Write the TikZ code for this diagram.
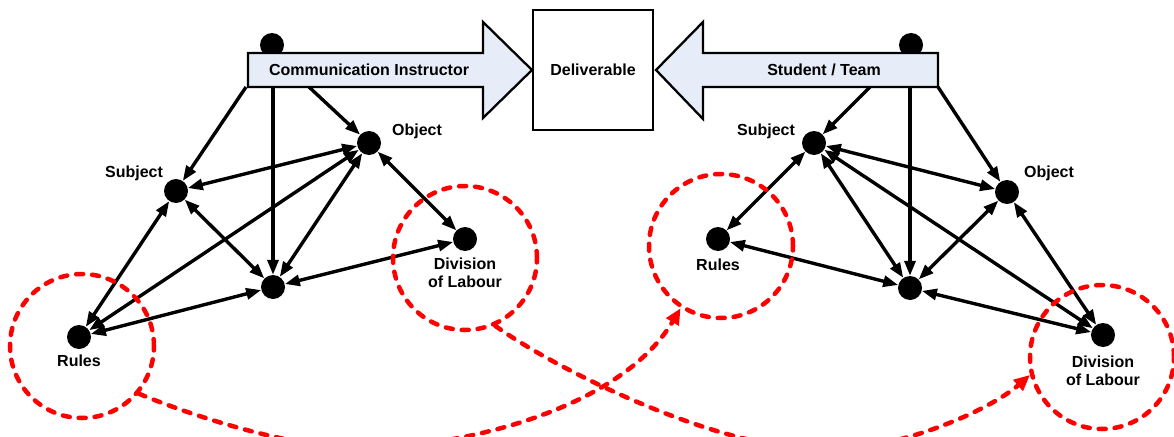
\documentclass[tikz,border=0pt]{standalone}
\usepackage{fontspec}
\setmainfont{Liberation Sans}
\usetikzlibrary{arrows.meta}
\definecolor{arrfill}{RGB}{230,237,248}
\definecolor{dashred}{RGB}{255,0,0}
\begin{document}
\begin{tikzpicture}[x=1pt,y=-1pt,
  font=\fontsize{16}{18}\selectfont\bfseries,
  dot/.style={circle,fill=black,minimum size=24pt,inner sep=0pt},
  lbl/.style={align=center,inner sep=0pt},
  link/.style={line width=3.4pt,-{Triangle[length=15pt,width=11pt]}},
  dlink/.style={line width=3.4pt,{Triangle[length=15pt,width=11pt]}-{Triangle[length=15pt,width=11pt]}},
  ring/.style={draw=dashred,line width=4.5pt,dash pattern=on 7pt off 9pt,line cap=round},
  ringnode/.style={ring,circle,minimum size=144pt,inner sep=0pt},
  flow/.style={ring,-{Triangle[length=16pt,width=14pt]}},
  bigarrow/.style={draw=black,line width=2.3pt,fill=arrfill,line join=miter}]
\useasboundingbox (0,0) rectangle (1174,436);
\clip (0,0) rectangle (1174,436);

% top dots (behind the big arrows)
\node[dot] (ltop) at (272,45) {};
\node[dot] (rtop) at (911,45) {};

% big arrows
\draw[bigarrow] (248,53) -- (483,53) -- (483,22) -- (532,70) -- (483,118) -- (483,87) -- (248,87) -- cycle;
\node (ci) at (369,70) {Communication Instructor};
\draw[bigarrow] (938,53) -- (703,53) -- (703,22) -- (656,70) -- (703,119) -- (703,87) -- (938,87) -- cycle;
\node (st) at (824,70) {Student / Team};

% deliverable
\node[draw,line width=2pt,minimum width=120pt,minimum height=120pt,inner sep=0pt] (deliv) at (593,70) {Deliverable};

% coordinates on arrow bodies
\coordinate (ca1) at (246,87);
\coordinate (ca2) at (273,87);
\coordinate (ca3) at (309,87);
\coordinate (sa1) at (870,87);
\coordinate (sa2) at (910,87);
\coordinate (sa3) at (938,87);

% left nodes
\node[dot] (lS) at (176,191) {};
\node[dot] (lO) at (369,143) {};
\node[dot] (lC) at (273,287) {};
\node[dot] (lD) at (465,239) {};
\node[dot] (lR) at (79,337) {};
\node[lbl] (lSl) at (134,173) {Subject};
\node[lbl] (lOl) at (417,131) {Object};
\node[lbl] (lDl) at (465,273) {Division\\of Labour};
\node[lbl] (lRl) at (79,361) {Rules};

% right nodes
\node[dot] (rS) at (814,143) {};
\node[dot] (rO) at (1007,192) {};
\node[dot] (rC) at (910,288) {};
\node[dot] (rD) at (1103,335) {};
\node[dot] (rR) at (718,239) {};
\node[lbl] (rSl) at (766,131) {Subject};
\node[lbl] (rOl) at (1049,173) {Object};
\node[lbl] (rDl) at (1103,371) {Division\\of Labour};
\node[lbl] (rRl) at (718,265) {Rules};

% left connectors
\draw[link] (ca1) -- (lS);
\draw[link] (ca2) -- (lC);
\draw[link] (ca3) -- (lO);
\draw[dlink] (lS) -- (lO);
\draw[dlink] (lS) -- (lC);
\draw[dlink] (lS) -- (lR);
\draw[dlink] (lO) -- (lC);
\draw[dlink] (lO) -- (lR);
\draw[dlink] (lO) -- (lD);
\draw[dlink] (lC) -- (lD);
\draw[dlink] (lC) -- (lR);

% right connectors
\draw[link] (sa1) -- (rS);
\draw[link] (sa2) -- (rC);
\draw[link] (sa3) -- (rO);
\draw[dlink] (rS) -- (rO);
\draw[dlink] (rS) -- (rR);
\draw[dlink] (rS) -- (rC);
\draw[dlink] (rS) -- (rD);
\draw[dlink] (rO) -- (rC);
\draw[dlink] (rO) -- (rD);
\draw[dlink] (rR) -- (rC);
\draw[dlink] (rC) -- (rD);

% red dashed rings
\node[ringnode] (ringLR) at (82,346) {};
\node[ringnode] (ringLD) at (465,258) {};
\node[ringnode] (ringRR) at (721,246) {};
\node[ringnode] (ringRD) at (1102,357) {};

% red dashed flows
\draw[flow] (ringLR.-40) .. controls (190,415) and (290,448) .. (360,448)
  .. controls (460,448) and (620,410) .. (ringRR.-123);
\draw[flow] (ringLD.-66) .. controls (560,372) and (720,450) .. (825,450)
  .. controls (900,450) and (990,410) .. (ringRD.-166);
\end{tikzpicture}
\end{document}
